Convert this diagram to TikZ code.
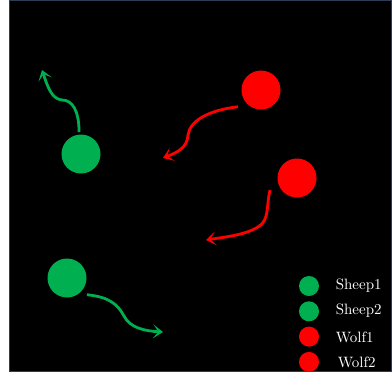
\documentclass[tikz,border=0pt]{standalone}
\usepackage{fontspec}
\usetikzlibrary{positioning,arrows.meta}
\definecolor{sheepgreen}{RGB}{0,176,80}
\definecolor{wolfred}{RGB}{255,0,0}
\definecolor{framecol}{RGB}{47,60,85}

\begin{document}
\begin{tikzpicture}[x=1pt, y=-1pt,
  agent/.style={circle, minimum size=39pt, inner sep=0pt},
  dot/.style={circle, minimum size=20pt, inner sep=0pt},
  lbl/.style={text=white, inner sep=1pt, anchor=west, scale=1.5, transform shape},
  move/.style={line width=2.8pt, -{Stealth[length=10pt, width=14pt, inset=5.5pt]}}]
  \useasboundingbox (0,0) rectangle (392,376);
  \fill[white] (0,0) rectangle (392,376);
  \draw[framecol, fill=black, line width=1pt] (9.5,0.5) rectangle (391.5,371.5);
  % agents
  \node[agent, fill=sheepgreen, outer sep=2.5pt] (s1) at (81,154) {};
  \node[agent, fill=sheepgreen, outer sep=6.5pt] (s2) at (67,278) {};
  \node[agent, fill=wolfred, outer sep=9pt] (w1) at (261,90) {};
  \node[agent, fill=wolfred, outer sep=10pt] (w2) at (297,178) {};
  \coordinate (s1to) at (42,70);
  \coordinate (s2to) at (163,332);
  \coordinate (w1to) at (163,158);
  \coordinate (w2to) at (206,240);
  % moves
  \draw[move, sheepgreen] (s1.95) .. controls (79,110) and (72,100) .. (62,100)
    .. controls (52,99) and (48,88) .. (s1to);
  \draw[move, sheepgreen] (s2.-40) .. controls (110,297) and (118,305) .. (124,316)
    .. controls (130,328) and (145,331) .. (s2to);
  \draw[move, wolfred] (w1.216) .. controls (210,110) and (190,120) .. (188,135)
    .. controls (187,148) and (178,152) .. (w1to);
  \draw[move, wolfred] (w2.204) .. controls (266,205) and (270,220) .. (258,227)
    .. controls (245,235) and (225,237) .. (w2to);
  % legend
  \foreach \i/\c in {1/sheepgreen, 2/sheepgreen, 3/wolfred, 4/wolfred}
    \node[dot, fill=\c] (l\i) at (309,{286+25.3*(\i-1)}) {};
  \node[lbl] (t1) at (334,286) {Sheep1};
  \node[lbl] (t2) at (334,311) {Sheep2};
  \node[lbl] (t3) at (334,337) {Wolf1};
  \node[lbl] (t4) at (336,362) {Wolf2};
\end{tikzpicture}
\end{document}
